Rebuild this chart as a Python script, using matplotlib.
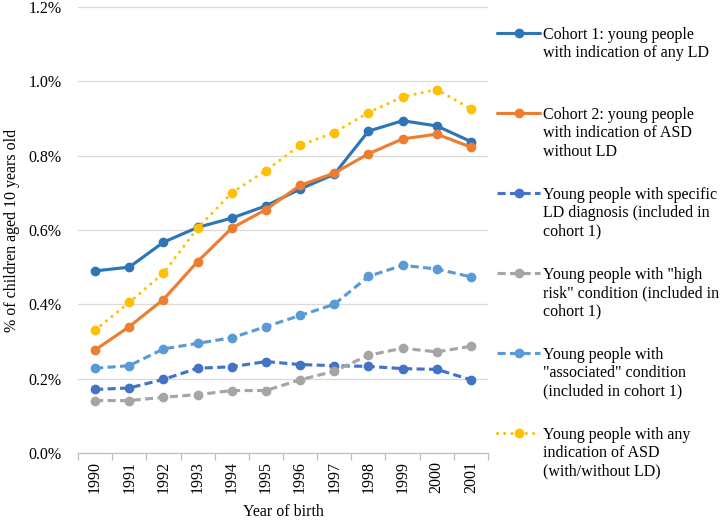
import matplotlib
matplotlib.use("Agg")
import matplotlib.pyplot as plt
import numpy as np
from matplotlib.ticker import FuncFormatter, FixedLocator

years = ["1990", "1991", "1992", "1993", "1994", "1995", "1996", "1997", "1998", "1999", "2000", "2001"]
cohort1 = [0.490, 0.500, 0.567, 0.607, 0.632, 0.665, 0.710, 0.750, 0.866, 0.894, 0.880, 0.838]
cohort2 = [0.277, 0.340, 0.413, 0.515, 0.605, 0.655, 0.720, 0.753, 0.805, 0.845, 0.858, 0.823]
specific_ld = [0.171, 0.175, 0.198, 0.228, 0.232, 0.246, 0.238, 0.235, 0.233, 0.227, 0.225, 0.197]
high_risk = [0.141, 0.141, 0.150, 0.157, 0.168, 0.168, 0.197, 0.220, 0.263, 0.282, 0.272, 0.287]
associated = [0.228, 0.235, 0.280, 0.295, 0.310, 0.340, 0.370, 0.400, 0.475, 0.505, 0.495, 0.474]
any_asd = [0.331, 0.405, 0.484, 0.605, 0.700, 0.760, 0.828, 0.862, 0.916, 0.958, 0.978, 0.926]

labels = [
    "Cohort 1: young people\nwith indication of any LD\n",
    "Cohort 2: young people\nwith indication of ASD\nwithout LD",
    "Young people with specific\nLD diagnosis (included in\ncohort 1)",
    "Young people with \"high\nrisk\" condition (included in\ncohort 1)",
    "Young people with\n\"associated\" condition\n(included in cohort 1)",
    "Young people with any\nindication of ASD\n(with/without LD)",
]

plt.rcParams['font.family'] = ['Liberation Serif', 'DejaVu Serif']
FS = 11.5

fig = plt.figure(figsize=(7.25, 5.21), dpi=100)
ax = fig.add_axes([78/725, 1-453/521, 410/725, 446/521])

x = np.arange(len(years))
lw = 2.25
ms = 6
series = [
    (cohort1, "#2E75B6", "-", None),
    (cohort2, "#ED7D31", "-", None),
    (specific_ld, "#4472C4", "--", (2.6, 1.4)),
    (high_risk, "#A5A5A5", "--", (2.6, 1.4)),
    (associated, "#5B9BD5", "--", (2.6, 1.4)),
    (any_asd, "#FFC000", ":", (0.01, 2.3)),
]
handles = []
for (vals, col, ls, dashes), lab in zip(series, labels):
    kw = dict(color=col, lw=lw, marker="o", ms=ms, label=lab, zorder=3)
    if dashes is not None:
        kw["dashes"] = dashes
        if ls == ":":
            kw["dash_capstyle"] = "round"
    else:
        kw["solid_capstyle"] = "round"
    h, = ax.plot(x, vals, **kw)
    handles.append(h)

ax.set_xlim(-0.5, len(years) - 0.5)
ax.set_ylim(0, 1.2)
ax.set_yticks(np.arange(0, 1.21, 0.2))
ax.yaxis.set_major_formatter(FuncFormatter(lambda v, p: f"{v:.1f}%"))
ax.grid(axis="y", color="#D9D9D9", lw=0.9, zorder=0)
ax.set_axisbelow(True)
for s in ["top", "right", "left"]:
    ax.spines[s].set_visible(False)
ax.spines["bottom"].set_color("#BFBFBF")
ax.spines["bottom"].set_linewidth(0.9)
ax.tick_params(axis="y", length=0, labelsize=FS, pad=12)
ax.set_xticks(x)
ax.set_xticklabels(years, rotation=90, fontsize=FS)
ax.tick_params(axis="x", which="major", length=0, pad=6)
ax.xaxis.set_minor_locator(FixedLocator(np.arange(-0.5, len(years), 1.0)))
ax.tick_params(axis="x", which="minor", length=5, color="#BFBFBF", width=0.9)

ax.set_xlabel("Year of birth", fontsize=FS, labelpad=8)
ax.set_ylabel("% of children aged 10 years old", fontsize=FS, labelpad=6)

leg = fig.legend(handles=handles, labels=labels, loc="upper left",
                 bbox_to_anchor=(497/725, 1-27/521), frameon=False, fontsize=FS,
                 handlelength=2.7, handletextpad=0.2, labelspacing=1.7,
                 borderaxespad=0, borderpad=0, handleheight=1.0)
for col in leg._legend_handle_box.get_children():
    for item in col.get_children():
        item.align = "top"

fig.savefig("out.png", dpi=100)
